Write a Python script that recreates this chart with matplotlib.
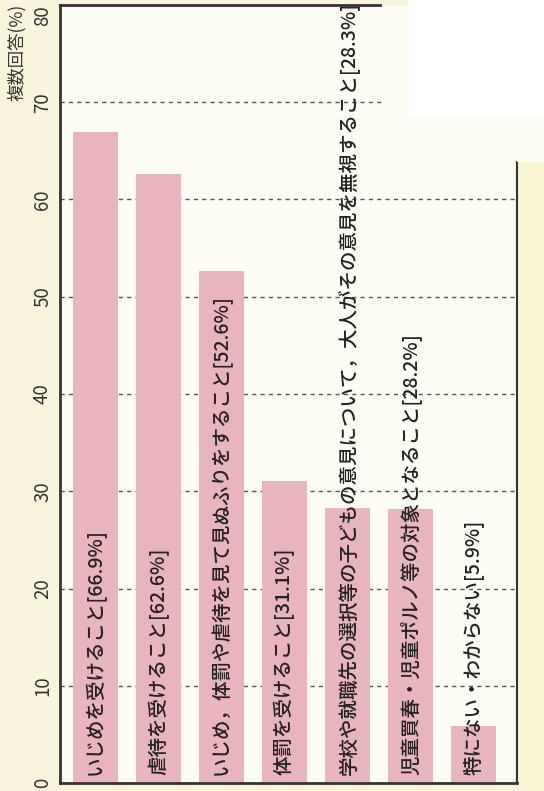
import matplotlib
matplotlib.use('Agg')
import matplotlib.pyplot as plt
from matplotlib.patches import Rectangle

plt.rcParams['font.family'] = ['Noto Sans CJK JP', 'DejaVu Sans']

# data
labels = [
    'いじめを受けること',
    '虐待を受けること',
    'いじめ，体罰や虐待を見て見ぬふりをすること',
    '体罰を受けること',
    '学校や就職先の選択等の子どもの意見について，大人がその意見を無視すること',
    '児童買春・児童ポルノ等の対象となること',
    '特にない・わからない',
]
values = [66.9, 62.6, 52.6, 31.1, 28.3, 28.2, 5.9]
yticks = [0, 10, 20, 30, 40, 50, 60, 70, 80]
ylabel = '複数回答(%)'

W, H = 544, 791
bg_left = '#f8f5dc'
bg_plot = '#fdfcf5'
bg_right = '#faf5d2'
bar_color = '#e8b4bd'
line_color = '#333333'

fig = plt.figure(figsize=(W / 100, H / 100), dpi=100, facecolor=bg_left)

def px(x0, y0, x1, y1):
    # pixel box -> figure coords
    return (x0 / W, 1 - y1 / H, (x1 - x0) / W, (y1 - y0) / H)

ax = fig.add_axes(px(60, 5, 517, 783))
ax.set_facecolor(bg_plot)

x = list(range(len(values)))
ax.bar(x, values, width=0.71, color=bar_color, zorder=2)

ax.set_ylim(0, 80)
ax.set_xlim(-0.563, 6.69)

# dashed grid lines
for t in yticks[1:-1]:
    xmax = 1.0 if t != 70 else (382 - 60) / (517 - 60)
    ax.axhline(t, xmin=0, xmax=xmax, color='#555555', lw=1.0,
               dashes=(3, 3), zorder=1)

# frame: left and bottom full, top and right cut like the scan
for s in ['top', 'right']:
    ax.spines[s].set_visible(False)
for s in ['left', 'bottom']:
    ax.spines[s].set_linewidth(2)
    ax.spines[s].set_color(line_color)
ax.plot([0, (380 - 60) / 457], [1, 1], transform=ax.transAxes,
        color=line_color, lw=2, clip_on=False, zorder=5)
ax.plot([1, 1], [0, (783 - 162) / 778], transform=ax.transAxes,
        color=line_color, lw=1.5, clip_on=False, zorder=5)

ax.set_xticks([])
ax.set_yticks(yticks)
ax.set_yticklabels([str(t) for t in yticks], rotation=90, va='center',
                   fontsize=13.5, color=line_color)
ax.get_yticklabels()[-1].set_va('top')
ax.tick_params(axis='y', length=0, pad=5)

# bar labels written upward inside the bars
for i, (lab, v) in enumerate(zip(labels, values)):
    ax.text(i, 0.8, f'{lab}[{v}%]', rotation=90, ha='center', va='bottom',
            fontsize=14, fontweight='medium', color='#222222', zorder=4)

fig.text(17 / W, 1 - 4 / H, ylabel, rotation=90, ha='center', va='top',
         fontsize=12.5, color=line_color)

# pieces of the scanned paper
fig.add_artist(Rectangle(px(408, 0, W, 117)[:2], *px(408, 0, W, 117)[2:],
                         transform=fig.transFigure, facecolor='#ffffff',
                         edgecolor='none', zorder=0.5))
fig.add_artist(Rectangle(px(517, 117, W, 162)[:2], *px(517, 117, W, 162)[2:],
                         transform=fig.transFigure, facecolor=bg_plot,
                         edgecolor='none', zorder=0.5))
fig.add_artist(Rectangle(px(519, 162, W, H)[:2], *px(519, 162, W, H)[2:],
                         transform=fig.transFigure, facecolor=bg_right,
                         edgecolor='none', zorder=0.5))

fig.savefig('out.png', dpi=100, facecolor=fig.get_facecolor())
